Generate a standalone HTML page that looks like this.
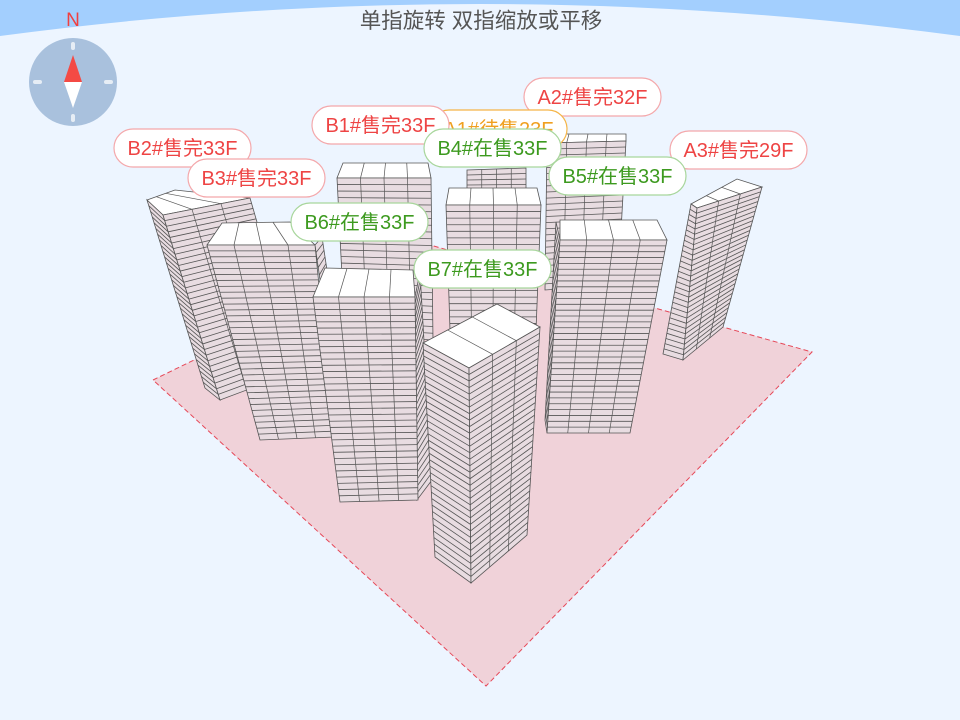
<!DOCTYPE html>
<html><head><meta charset="utf-8"><style>
html,body{margin:0;padding:0;background:#edf5ff;}
svg{display:block}
</style></head><body>
<svg id="s" width="960" height="720" viewBox="0 0 960 720" xmlns="http://www.w3.org/2000/svg" font-family="Liberation Sans, Noto Sans CJK SC, sans-serif">
<rect width="960" height="720" fill="#edf5ff"/>
<path d="M0,0 H960 V36 Q480,-28 0,36 Z" fill="#a3cffe"/>
<text x="481" y="28" text-anchor="middle" font-size="21.5" fill="#555">单指旋转 双指缩放或平移</text>
<polygon points="153,380 430,245 812,352 486,686" fill="#f0d2d9" stroke="#e64858" stroke-width="1" stroke-dasharray="5,3"/>
<g id="b"></g>
<g id="labels"></g>
<circle cx="73" cy="82" r="44" fill="#a9c1dd"/>
<g stroke="#e6edf5" stroke-width="4" stroke-linecap="round">
<line x1="73" y1="44" x2="73" y2="48"/><line x1="73" y1="116" x2="73" y2="120"/>
<line x1="35" y1="82" x2="40" y2="82"/><line x1="106" y1="82" x2="111" y2="82"/>
</g>
<polygon points="73,55 64,82 82,82" fill="#f44a44"/>
<polygon points="73,108 64,82 82,82" fill="#fff"/>
<text x="73" y="26" text-anchor="middle" font-size="19" fill="#f04040">N</text>
</svg>
<script>
(function(){
var NS="http://www.w3.org/2000/svg",g=document.getElementById('b'),L=document.getElementById('labels');
function el(p,t,a){var e=document.createElementNS(NS,t);for(var k in a)e.setAttribute(k,a[k]);p.appendChild(e);return e;}
function lerp(a,b,t){return [a[0]+(b[0]-a[0])*t,a[1]+(b[1]-a[1])*t];}
function pts(a){return a.map(function(p){return p[0]+','+p[1]}).join(' ');}
function face(tl,tr,br,bl,fl,cols){
 el(g,'polygon',{points:pts([tl,tr,br,bl]),fill:'#e8dce1',stroke:'#555','stroke-width':0.8});
 for(var i=1;i<fl;i++){var t=i/fl,a=lerp(tl,bl,t),b=lerp(tr,br,t);
  el(g,'line',{x1:a[0],y1:a[1],x2:b[0],y2:b[1],stroke:'#555','stroke-width':0.8});}
 for(var j=1;j<cols;j++){var t2=j/cols,c=lerp(tl,tr,t2),d=lerp(bl,br,t2);
  el(g,'line',{x1:c[0],y1:c[1],x2:d[0],y2:d[1],stroke:'#555','stroke-width':0.7});}
}
function roof(p,cols){el(g,'polygon',{points:pts(p),fill:'#fff',stroke:'#555','stroke-width':0.8});
 for(var j=1;j<cols;j++){var t=j/cols,a=lerp(p[0],p[1],t),b=lerp(p[3],p[2],t);
  el(g,'line',{x1:a[0],y1:a[1],x2:b[0],y2:b[1],stroke:'#555','stroke-width':0.7});}}
face([467,170],[526,168],[526,190],[467,190],4,4);
roof([[550,134],[626,134],[626,141],[547,143]],4);
face([547,143],[626,141],[618,285],[545,290],24,4);
roof([[343,163],[428,163],[431,178],[337,178]],4);
face([337,178],[431,178],[433,340],[345,335],24,4);
roof([[449,188],[537,188],[541,205],[446,205]],4);
face([446,205],[541,205],[536,330],[450,330],19,4);
roof([[147,200],[175,190],[250,198],[163,215]],3);
face([147,200],[163,215],[220,400],[205,388],33,1);
face([163,215],[250,198],[300,370],[220,400],33,3);
roof([[222,223],[290,222],[315,245],[207,245]],4);
face([315,245],[322,237],[336,330],[330,350],14,1);
face([207,245],[315,245],[334,437],[260,440],33,4);
roof([[325,268],[413,270],[415,297],[313,297]],4);
face([415,297],[420,272],[432,480],[417,500],30,1);
face([313,297],[415,297],[418,500],[340,502],33,4);
roof([[560,220],[657,220],[667,240],[560,240]],4);
face([556,222],[560,240],[547,433],[545,420],30,1);
face([560,240],[667,240],[630,433],[547,433],33,4);
roof([[691,204],[737,179],[762,187],[697,208]],3);
face([691,204],[697,208],[683,360],[663,354],29,1);
face([697,208],[762,187],[723,327],[683,360],29,3);
roof([[423,343],[497,304],[540,327],[469,368]],3);
face([423,343],[469,368],[471,583],[435,557],33,1);
face([469,368],[540,327],[527,535],[471,583],33,3);
function lab(x,y,t,c){var col={r:['#f4a8ab','#ee4444'],g:['#a8d69c','#3d9a1f'],o:['#f5b548','#f0a020']}[c];
 el(L,'rect',{x:x,y:y,width:137,height:38,rx:19,fill:'#fff',stroke:col[0],'stroke-width':1.2});
 var e=el(L,'text',{x:x+68.5,y:y+26,'text-anchor':'middle','font-size':20,fill:col[1]});e.textContent=t;}
lab(524,78,'A2#售完32F','r');
lab(430,110,'A1#待售23F','o');
lab(312,106,'B1#售完33F','r');
lab(424,129,'B4#在售33F','g');
lab(114,129,'B2#售完33F','r');
lab(670,131,'A3#售完29F','r');
lab(188,159,'B3#售完33F','r');
lab(549,157,'B5#在售33F','g');
lab(291,203,'B6#在售33F','g');
lab(414,250,'B7#在售33F','g');
})();
</script>
</body></html>
